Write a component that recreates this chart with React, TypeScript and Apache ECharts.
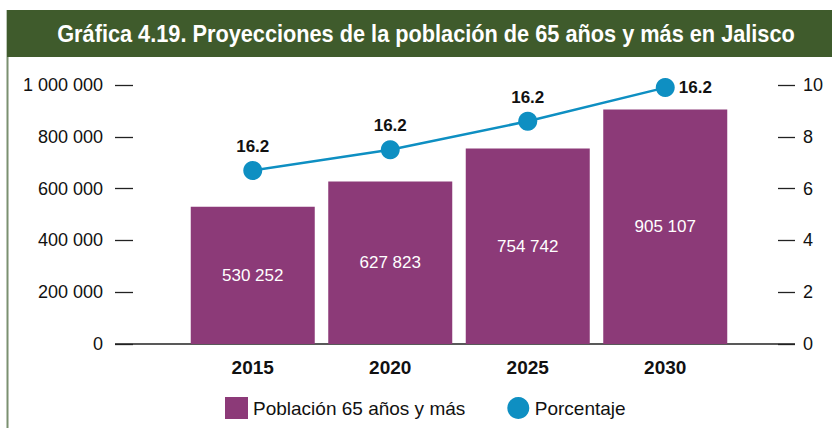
import React, { useEffect, useRef } from "react";
import * as echarts from "echarts";

const title = "Gráfica 4.19. Proyecciones de la población de 65 años y más en Jalisco";
const years = ["2015", "2020", "2025", "2030"];
const population = [530252, 627823, 754742, 905107];
const percentage = [6.7, 7.5, 8.6, 9.9];
const percentLabels = ["16.2", "16.2", "16.2", "16.2"];
const seriesNames = ["Población 65 años y más", "Porcentaje"];

const REG = '"Liberation Sans", Arial, Helvetica, sans-serif';

const fmtSpace = (v: number) => String(v).replace(/\B(?=(\d{3})+(?!\d))/g, " ");

export default function App() {
  const ref = useRef<HTMLDivElement>(null);
  useEffect(() => {
    if (!ref.current) return;
    const chart = echarts.init(ref.current, undefined, { renderer: "svg" });
    chart.setOption({
      animation: false,
      backgroundColor: "#ffffff",
      graphic: [
        { type: "line", shape: { x1: 7.5, y1: 10, x2: 7.5, y2: 428 }, style: { stroke: "#7b9070", lineWidth: 2 } },
        { type: "rect", shape: { x: 7, y: 10, width: 825, height: 47 }, style: { fill: "#3f5b2c" } },
        {
          type: "text",
          x: 426,
          y: 34,
          scaleX: 0.945,
          style: {
            text: title,
            fill: "#ffffff",
            font: `bold 23px ${REG}`,
            align: "center",
            verticalAlign: "middle",
          },
        },
        { type: "line", shape: { x1: 115, y1: 344, x2: 795, y2: 344 }, style: { stroke: "#222", lineWidth: 1.3 } },
      ],
      grid: { left: 184, right: 98, top: 85, bottom: 84 },
      legend: {
        left: 225,
        top: 397,
        padding: 0,
        itemWidth: 23,
        itemHeight: 22,
        itemGap: 42,
        textStyle: { fontFamily: REG, fontSize: 19, color: "#111" },
        data: [
          { name: seriesNames[0], icon: "rect" },
          { name: seriesNames[1], icon: "circle" },
        ],
      },
      xAxis: {
        type: "category",
        data: years,
        axisLine: { show: false },
        axisTick: { show: false },
        axisLabel: { fontFamily: REG, fontWeight: "bold", fontSize: 19, color: "#111", margin: 14 },
      },
      yAxis: [
        {
          type: "value",
          min: 0,
          max: 1000000,
          interval: 200000,
          position: "left",
          offset: 51,
          splitLine: { show: false },
          axisLine: { show: false },
          axisTick: { show: true, length: 18, lineStyle: { color: "#222", width: 1.3 } },
          axisLabel: { fontFamily: REG, fontSize: 18, color: "#111", margin: 30, formatter: (v: number) => fmtSpace(v) },
        },
        {
          type: "value",
          min: 0,
          max: 10,
          interval: 2,
          position: "right",
          offset: 44,
          splitLine: { show: false },
          axisLine: { show: false },
          axisTick: { show: true, length: 17, lineStyle: { color: "#222", width: 1.3 } },
          axisLabel: { fontFamily: REG, fontSize: 18, color: "#111", margin: 25 },
        },
      ],
      series: [
        {
          name: seriesNames[0],
          type: "bar",
          yAxisIndex: 0,
          data: population,
          barWidth: 124,
          itemStyle: { color: "#8c3a78" },
          label: {
            show: true,
            position: "inside",
            color: "#ffffff",
            fontFamily: REG,
            fontSize: 17,
            formatter: (p: any) => fmtSpace(p.value),
          },
        },
        {
          name: seriesNames[1],
          type: "line",
          yAxisIndex: 1,
          data: percentage.map((v, i) =>
            i === percentage.length - 1 ? { value: v, label: { position: "right", distance: 4 } } : { value: v }
          ),
          symbol: "circle",
          symbolSize: 19,
          lineStyle: { color: "#0e8fc2", width: 2.5 },
          itemStyle: { color: "#0e8fc2" },
          label: {
            show: true,
            position: "top",
            distance: 6,
            color: "#111",
            fontFamily: REG,
            fontWeight: "bold",
            fontSize: 17,
            formatter: (p: any) => percentLabels[p.dataIndex],
          },
        },
      ],
    });
    return () => chart.dispose();
  }, []);
  return <div ref={ref} style={{ position: "fixed", left: 0, top: 0, width: 832, height: 428 }} />;
}
